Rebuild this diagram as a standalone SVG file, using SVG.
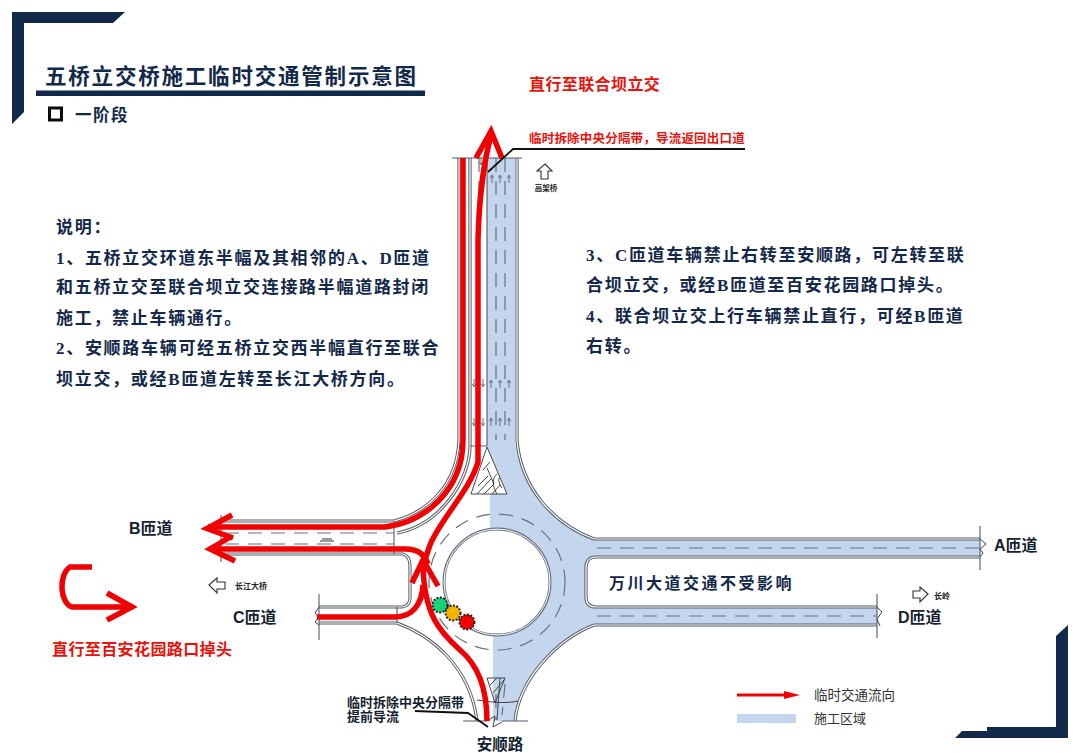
<svg xmlns="http://www.w3.org/2000/svg" xmlns:xlink="http://www.w3.org/1999/xlink" width="1080" height="753" viewBox="0 0 1080 753">
<style>
text{font-family:"Liberation Sans","Noto Sans CJK SC",sans-serif;font-weight:700}
.note{font-family:"Liberation Serif","Noto Sans CJK SC",serif;font-size:17px;letter-spacing:1.7px;fill:#14284a}
.lab{font-size:16px;fill:#151f30}
.navy{fill:#12294a}
.red{fill:none;stroke:#f00000;stroke-width:5.5;stroke-linecap:butt;stroke-linejoin:miter}
.dbl{fill:none;stroke:#555c66;stroke-width:3.2}
.in{fill:none;stroke:#fff;stroke-width:1.2}
.thin{fill:none;stroke:#555c66;stroke-width:1.1}
.dash{fill:none;stroke:#667080;stroke-width:1.2;stroke-dasharray:14 9}
.hat{fill:none;stroke:#333;stroke-width:.9}
.blk{fill:none;stroke:#111;stroke-width:1.8}
.tiny{font-size:8px;fill:#222}
.oa{fill:#fff;stroke:#333;stroke-width:1.1}
.ma{fill:none;stroke:#667080;stroke-width:1}
</style>
<defs>
<path id="edges" d="M459 158V440C457 485 428 512 394 521H221M470 158V446C470 480 440 525 397 533M517 158V440C521 490 556 525 594 539H980M594 557H980M596 557Q586 557 586 568V597Q586 607 596 607H877M594 625H877M594 625C556 640 519 680 515 721M394 554H403Q410 556 410 566V598Q410 606 402 607H319M319 623H397C430 635 470 665 477 721M221 554H394"/>
<path id="ua" d="M0 4V-3M-1.6 -1L0 -4L1.6 -1"/>
<path id="da" d="M0 -4V3M-1.6 1L0 4L1.6 1"/>
</defs>
<rect width="1080" height="753" fill="#fff"/>
<g id="frame">
<polygon class="navy" points="12,12 125,12 113,23 24,23 24,112 12,124"/>
<polygon class="navy" points="1068,625 1056,636 1056,727 987,727 987,731 962,731 955,738 1068,738"/>
<rect class="navy" x="36" y="90.500" width="389" height="5.500"/>
</g>
<g id="title">
<text x="45" y="84" font-size="21.500" letter-spacing="1.800" fill="#12294a">五桥立交桥施工临时交通管制示意图</text>
<rect x="49.500" y="108" width="12" height="12" fill="#fff" stroke="#0b0b0b" stroke-width="3"/>
<text x="75" y="121" font-size="16.500" letter-spacing="1.500" fill="#12294a">一阶段</text>
</g>
<g id="roads">
<path d="M487 158H515V440C520 490 556 525 594 539H980V557H596Q586 557 586 568V597Q586 607 596 607H877V626H594C556 640 519 680 515 721H493V625H490V494H487Z" fill="#c3d6ee"/>
<use xlink:href="#edges" class="dbl"/>
<use xlink:href="#edges" class="in"/>
<path class="thin" d="M487 158V446M470 446H487M221 515V562M394 521V554M397 607V623M319 594V640M980 526V570M877 594V638"/>
<path class="thin" d="M452 158H522M463 721H487M502 721H528"/>
<path d="M980 539L986 544L980 549L983 553L980 557M877 607L882 612L877 619L880 626M319 607L315 613L319 617L315 622L319 625M487 721L495 716L493 727L502 722" fill="none" stroke="#444" stroke-width="1"/>
<path class="dash" d="M479 158V440M496 158V440M505 158V440M225 533H394M225 544H394M597 548H980M597 616H877"/>
<path d="M322 539H332M320 541H334" stroke="#333" stroke-width="1"/>
<circle cx="497" cy="582" r="68" class="dash"/>
<path d="M496 694V720M505 684L502 715" class="dash"/>
</g>
<g id="hatch">
<path d="M471 494H507L487 447Z" fill="#fff"/>
<path class="hat" d="M471 494H507L487 447ZM477 494L491 479M484 494L494 484L487 468M492 494L500 485M478 486L488 476M483 470L490 462M497 494C492 486 492 478 497 474M502 488C498 482 498 478 500 478"/>
<path class="hat" d="M487 678H505L495 703ZM490 685L497 678M493 693L504 680M477 700C490 702 505 704 518 701M500 678L497 720"/>
<g class="ma"><use xlink:href="#da" x="474" y="383"/><use xlink:href="#da" x="483" y="383"/><use xlink:href="#ua" x="491" y="384"/><use xlink:href="#ua" x="500" y="384"/><use xlink:href="#ua" x="509" y="384"/><use xlink:href="#da" x="474" y="422"/><use xlink:href="#da" x="483" y="422"/><use xlink:href="#ua" x="491" y="422"/><use xlink:href="#ua" x="500" y="422"/><use xlink:href="#ua" x="509" y="422"/><use xlink:href="#da" x="481" y="161"/><use xlink:href="#ua" x="492" y="179"/><use xlink:href="#ua" x="500" y="179"/><use xlink:href="#ua" x="509" y="179"/></g>
</g>
<g id="island">
<circle cx="497" cy="582" r="53" fill="#fff" stroke="#667080" stroke-width="3"/>
<circle cx="497" cy="582" r="53" fill="none" stroke="#fff" stroke-width="1"/>
</g>
<g id="connectors">
<path class="red" d="M463 158V440C463 490 425 522 385 527H208"/>
<path class="red" d="M232 515L207 528.500L233 538"/>
<path class="red" d="M487 721C487 690 478 665 460 650C440 632 424 615 423 565"/>
<path class="red" d="M412 583L423 560L438 586"/>
<path class="red" d="M478 440V240C479 200 484 160 491 136M476 158L491 131L502 158"/>
<path class="red" d="M478 440V462C470 490 440 520 430 545L423 565"/>
<path class="red" d="M212 549H405C420 549 425 556 428 564"/>
<path class="red" d="M232 536L210 549L235 561"/>
<path class="red" d="M317 617H395C412 617 422 605 423 585"/>
<path class="red" d="M92 567H70C58 575 60 603 72 607H128M107 593L132 607L107 620"/>
<path class="blk" d="M488 172L513 149H745"/>
<path class="blk" d="M415 711L468 713L488 727"/>
</g>
<g id="lights">
<circle cx="440" cy="605" r="7.500" fill="#18d27c" stroke="#222" stroke-width="2" stroke-dasharray="2 1.500"/>
<circle cx="453" cy="613" r="7.500" fill="#f5b400" stroke="#222" stroke-width="2" stroke-dasharray="2 1.500"/>
<circle cx="467" cy="622" r="7.500" fill="#f40000" stroke="#222" stroke-width="2" stroke-dasharray="2 1.500"/>
</g>
<g id="labels">
<text x="529" y="90" font-size="16" letter-spacing=".4" fill="#e8120c">直行至联合坝立交</text>
<text x="529" y="143" font-size="12.500" letter-spacing=".2" fill="#e8120c">临时拆除中央分隔带，导流返回出口道</text>
<path class="oa" d="M545 164L552 171H548V179H541V171H537Z"/>
<text x="546" y="191" font-size="7.500" text-anchor="middle" fill="#222">高架桥</text>
<text class="note" x="56" y="233">说明：</text>
<text class="note" x="56" y="264">1、五桥立交环道东半幅及其相邻的A、D匝道</text>
<text class="note" x="56" y="293">和五桥立交至联合坝立交连接路半幅道路封闭</text>
<text class="note" x="56" y="324">施工，禁止车辆通行。</text>
<text class="note" x="56" y="354">2、安顺路车辆可经五桥立交西半幅直行至联合</text>
<text class="note" x="56" y="385">坝立交，或经B匝道左转至长江大桥方向。</text>
<text class="note" x="586" y="261">3、C匝道车辆禁止右转至安顺路，可左转至联</text>
<text class="note" x="586" y="291">合坝立交，或经B匝道至百安花园路口掉头。</text>
<text class="note" x="586" y="322">4、联合坝立交上行车辆禁止直行，可经B匝道</text>
<text class="note" x="586" y="352">右转。</text>
<text class="lab" x="129" y="534">B匝道</text>
<text class="lab" x="233" y="623">C匝道</text>
<text class="lab" x="994" y="551">A匝道</text>
<text class="lab" x="898" y="623">D匝道</text>
<text x="609" y="589" font-size="16" letter-spacing="2.500" fill="#14284a">万川大道交通不受影响</text>
<text x="52" y="655" font-size="16" letter-spacing=".4" fill="#e8120c">直行至百安花园路口掉头</text>
<path class="oa" d="M209 585L217 578V582H225V589H217V593Z"/>
<text class="tiny" x="235" y="589">长江大桥</text>
<path class="oa" d="M928 594L920 587V591H913V598H920V602Z"/>
<text class="tiny" x="934" y="599">长岭</text>
<text x="347" y="707" font-size="13" fill="#151f30">临时拆除中央分隔带</text>
<text x="347" y="721" font-size="13" fill="#151f30">提前导流</text>
<text x="500" y="750" font-size="15.500" text-anchor="middle" fill="#151f30">安顺路</text>
</g>
<g id="legend">
<path d="M737 693.500H784V691L800 695L784 699V696.500H737Z" fill="#f00000"/>
<rect x="737" y="714" width="59" height="9" fill="#c3d6ee"/>
<text x="814" y="700" font-size="13.500" style="font-weight:400" fill="#333">临时交通流向</text>
<text x="814" y="723" font-size="13" style="font-weight:400" fill="#333">施工区域</text>
</g>
</svg>
